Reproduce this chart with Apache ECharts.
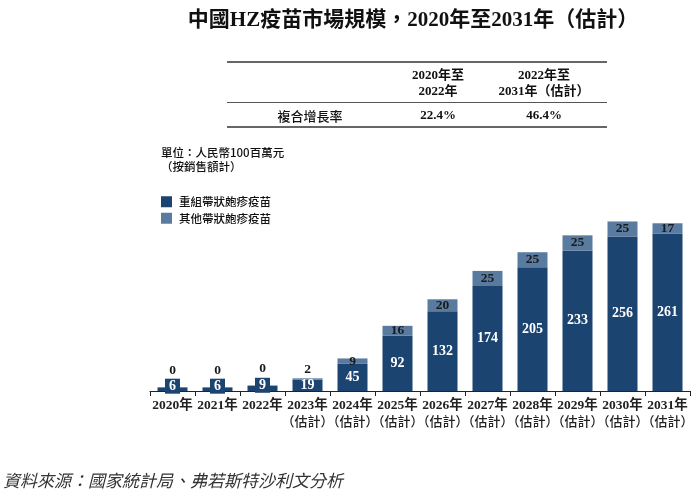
<!DOCTYPE html>
<html><head><meta charset="utf-8">
<script src="https://cdn.jsdelivr.net/npm/echarts@6/dist/echarts.min.js"></script>
<style>html,body{margin:0;padding:0;background:#fff}#c{width:700px;height:501px}</style>
</head><body><div id="c"></div>
<script>
const categories = ['2020年','2021年','2022年','2023年\n（估計）','2024年\n（估計）','2025年\n（估計）','2026年\n（估計）','2027年\n（估計）','2028年\n（估計）','2029年\n（估計）','2030年\n（估計）','2031年\n（估計）'];
const recombinant = [6,6,9,19,45,92,132,174,205,233,256,261];
const others = [0,0,0,2,9,16,20,25,25,25,25,17];
const seriesNames = ['重組帶狀皰疹疫苗','其他帶狀皰疹疫苗'];
const cagrHeaders = ['2020年至\n2022年','2022年至\n2031年（估計）'];
const cagrRowLabel = '複合增長率';
const cagrValues = ['22.4%','46.4%'];

const DARK = '#1b4470';
const LIGHT = '#5a7ba0';
const FF = '"Liberation Serif","Noto Sans CJK TC",serif';
const FS = '"Noto Sans CJK TC","Liberation Sans",sans-serif';

const darkData = recombinant.map(v => {
  if (v < 15) return {value: v, label: {backgroundColor: DARK, padding: [1, 4, 0, 4], offset: [0, -3]}};
  return v;
});
const lightData = others.map((v, i) => {
  if (v < 5) return {value: v, label: {position: 'top', distance: recombinant[i] < 15 ? 10 : 2}};
  return v;
});

const chart = echarts.init(document.getElementById('c'), null, {renderer: 'canvas'});
chart.setOption({
  animation: false,
  title: {
    text: '中國HZ疫苗市場規模，2020年至2031年（估計）',
    left: 408, textAlign: 'center', top: 5,
    textStyle: {fontFamily: FF, fontSize: 21, fontWeight: 'bold', color: '#111'}
  },
  legend: {
    orient: 'vertical', left: 156, top: 191, itemWidth: 11, itemHeight: 11, itemGap: 5,
    icon: 'rect',
    textStyle: {fontFamily: FS, fontSize: 11.5, fontWeight: 500, color: '#111', padding: [0,0,0,2]},
    data: seriesNames
  },
  grid: {left: 150, right: 10, top: 210, bottom: 110},
  xAxis: {
    type: 'category', data: categories,
    axisLine: {lineStyle: {color: '#222', width: 1}},
    axisTick: {show: true, length: 5, lineStyle: {color: '#222'}},
    axisLabel: {
      interval: 0, margin: 7,
      formatter: function (s) {
        const p = s.split('\n');
        return '{a|' + p[0] + '}' + (p[1] ? '\n{b|' + p[1] + '}' : '');
      },
      rich: {
        a: {fontFamily: FF, fontSize: 13.5, fontWeight: 'bold', color: '#222', lineHeight: 15},
        b: {fontFamily: FS, fontSize: 13, fontWeight: 500, color: '#222', lineHeight: 17}
      }
    }
  },
  yAxis: {type: 'value', min: 0, max: 300, show: false, splitLine: {show: false}},
  series: [
    {
      name: seriesNames[0], type: 'bar', stack: 'a', barWidth: 30,
      itemStyle: {color: DARK}, data: darkData,
      label: {show: true, position: 'inside', color: '#fff', fontFamily: FF, fontWeight: 'bold', fontSize: 14}
    },
    {
      name: seriesNames[1], type: 'bar', stack: 'a', barWidth: 30,
      itemStyle: {color: LIGHT}, data: lightData,
      label: {show: true, position: 'inside', color: '#1a1a1a', fontFamily: FF, fontWeight: 'bold', fontSize: 13.5}
    }
  ],
  graphic: [
    {type: 'line', shape: {x1: 227, y1: 62, x2: 607, y2: 62}, style: {stroke: '#333', lineWidth: 1.5}},
    {type: 'line', shape: {x1: 227, y1: 102.5, x2: 607, y2: 102.5}, style: {stroke: '#555', lineWidth: 1}},
    {type: 'line', shape: {x1: 227, y1: 127, x2: 607, y2: 127}, style: {stroke: '#333', lineWidth: 1.5}},
    {type: 'text', x: 438, y: 84, style: {text: cagrHeaders[0], textAlign: 'center', textVerticalAlign: 'middle', font: 'bold 13px ' + FF, fill: '#111', lineHeight: 16}},
    {type: 'text', x: 544, y: 84, style: {text: cagrHeaders[1], textAlign: 'center', textVerticalAlign: 'middle', font: 'bold 13px ' + FF, fill: '#111', lineHeight: 16}},
    {type: 'text', x: 310, y: 116, style: {text: cagrRowLabel, textAlign: 'center', textVerticalAlign: 'middle', font: '500 13px ' + FS, fill: '#111'}},
    {type: 'text', x: 438, y: 116, style: {text: cagrValues[0], textAlign: 'center', textVerticalAlign: 'middle', font: 'bold 13px ' + FF, fill: '#111'}},
    {type: 'text', x: 544, y: 116, style: {text: cagrValues[1], textAlign: 'center', textVerticalAlign: 'middle', font: 'bold 13px ' + FF, fill: '#111'}},
    {type: 'text', x: 161, y: 160, style: {text: '單位：人民幣100百萬元\n（按銷售額計）', textVerticalAlign: 'middle', font: '500 11.5px ' + FS, fill: '#111', lineHeight: 14}},
    {type: 'text', x: 3, y: 481, style: {text: '資料來源：國家統計局、弗若斯特沙利文分析', textVerticalAlign: 'middle', font: 'italic 17px ' + FS, fill: '#333'}}
  ]
});
</script></body></html>
